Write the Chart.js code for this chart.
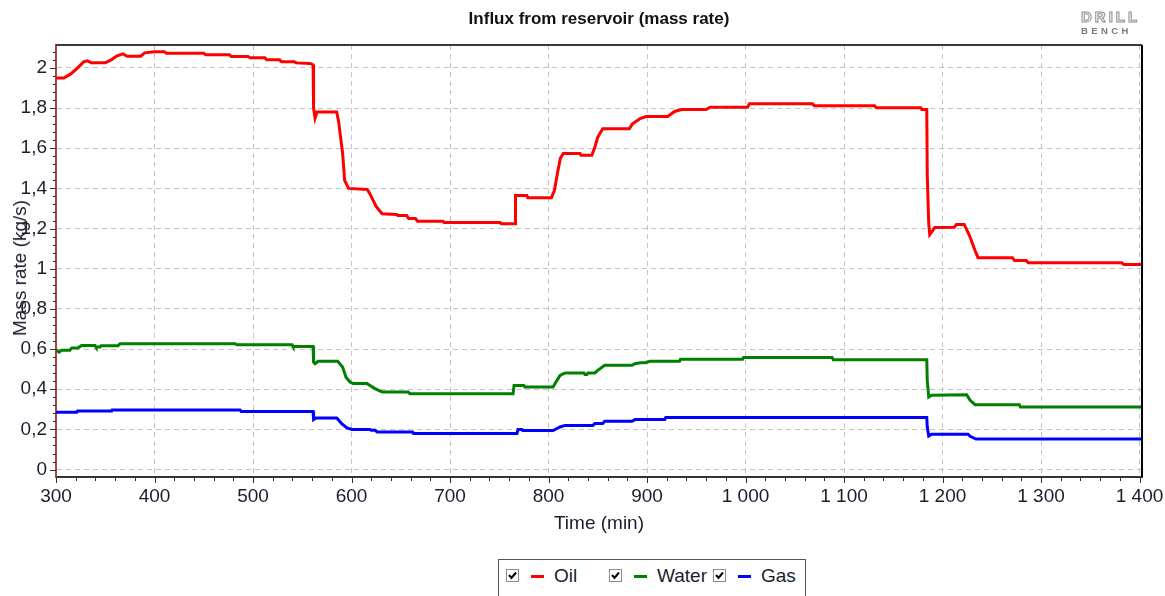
<!DOCTYPE html>
<html>
<head>
<meta charset="utf-8">
<script src="https://cdn.jsdelivr.net/npm/chart.js@4.4.0/dist/chart.umd.min.js"></script>
<style>
  body { margin: 0; background: #fff; font-family: "Liberation Sans", Arial, sans-serif; }
  #wrap { position: relative; width: 1165px; height: 596px; overflow: hidden; }
  #chart { position: absolute; left: 0; top: 0; }
  .txt { position: absolute; white-space: nowrap; color: #1c1c2e; }
  #title { left: 0; width: 1198px; top: 9px; text-align: center; font-weight: bold; font-size: 17px; color: #111; }
  #xTitle { left: 0; width: 1198px; top: 512px; text-align: center; font-size: 19px; }
  #yTitle { left: 20px; top: 268px; font-size: 19px; transform: translate(-50%, -50%) rotate(-90deg); }
  #logo { left: 1081px; top: 9px; line-height: 1; }
  #logo .a { font-size: 15px; letter-spacing: 3px; font-weight: bold; color: #fff; -webkit-text-stroke: 1px #8c8c8c; }
  #logo .b { font-size: 9.5px; letter-spacing: 3.4px; font-weight: bold; margin-top: 2px; color: #7a7a7a; }
  #legend { position: absolute; left: 498px; top: 559px; width: 306px; height: 50px; border: 1px solid #555; }
  .cb { position: absolute; top: 9px; width: 11px; height: 11px; border: 1px solid #8c8c8c; background: #fff; }
  .cb svg { position: absolute; left: 1px; top: 1px; }
  .mk { position: absolute; top: 15px; width: 13px; height: 3px; }
  .lt { position: absolute; top: 5px; font-size: 19px; color: #1c1c2e; }
</style>
</head>
<body>
<div id="wrap">
  <canvas id="chart" width="1165" height="545"></canvas>
  <div class="txt" id="title">Influx from reservoir (mass rate)</div>
  <div class="txt" id="xTitle">Time (min)</div>
  <div class="txt" id="yTitle">Mass rate (kg/s)</div>
  <div class="txt" id="logo"><div class="a">DRILL</div><div class="b">BENCH</div></div>
  <div id="legend"></div>
</div>
<script>
// Influx from reservoir, [time (min), mass rate (kg/s)]
const oilPoints = [
  [300, 1.95], [308, 1.95], [315, 1.97], [322, 2.0], [328, 2.03], [332, 2.035], [336, 2.025], [350, 2.025],
  [356, 2.04], [362, 2.06], [368, 2.07], [372, 2.058], [386, 2.058], [390, 2.075], [400, 2.08], [410, 2.08],
  [412, 2.073], [450, 2.073], [452, 2.065], [476, 2.065], [478, 2.057], [495, 2.057], [497, 2.05], [512, 2.05],
  [514, 2.04], [527, 2.04], [529, 2.03], [542, 2.03], [544, 2.025], [558, 2.022], [561, 2.015], [561.5, 1.80],
  [563, 1.75], [565, 1.78], [585, 1.78], [587, 1.73], [588, 1.69], [591, 1.574], [593, 1.44], [597, 1.40],
  [616, 1.395], [619, 1.37], [625, 1.31], [631, 1.274], [646, 1.27], [647, 1.265], [656, 1.265], [658, 1.25],
  [665, 1.25], [667, 1.236], [693, 1.236], [694, 1.23], [751, 1.23], [752, 1.224], [766, 1.224], [766.5, 1.365],
  [778, 1.365], [779, 1.353], [803, 1.353], [806, 1.39], [809, 1.474], [812, 1.55], [815, 1.574], [832, 1.574],
  [833, 1.565], [844, 1.565], [847, 1.605], [850, 1.655], [855, 1.697], [882, 1.697], [885, 1.72], [893, 1.748],
  [899, 1.758], [921, 1.758], [928, 1.783], [935, 1.793], [960, 1.793], [964, 1.804], [1002, 1.804], [1004, 1.821],
  [1068, 1.821], [1070, 1.811], [1131, 1.811], [1133, 1.801], [1178, 1.801], [1179, 1.793], [1184, 1.793],
  [1184.5, 1.464], [1186, 1.224], [1187, 1.17], [1190, 1.19], [1192, 1.205], [1212, 1.207], [1214, 1.22],
  [1222, 1.22], [1225, 1.19], [1228, 1.157], [1233, 1.091], [1236, 1.055], [1271, 1.055], [1273, 1.041],
  [1285, 1.041], [1287, 1.03], [1382, 1.03], [1384, 1.021], [1403, 1.021]
];
const waterPoints = [
  [300, 0.597], [303, 0.585], [306, 0.594], [314, 0.594], [316, 0.605], [322, 0.605], [326, 0.618], [339.6, 0.618],
  [340.6, 0.61], [344.7, 0.61], [345.7, 0.617], [363, 0.617], [365, 0.627], [481.7, 0.627], [483.8, 0.622],
  [539.6, 0.622], [540.6, 0.613], [561, 0.613], [561.5, 0.535], [563, 0.527], [566, 0.539], [586, 0.539],
  [591, 0.51], [594.4, 0.46], [598.5, 0.436], [601.5, 0.428], [615.7, 0.428], [618.8, 0.419], [623.9, 0.403],
  [629, 0.391], [632, 0.386], [657.4, 0.386], [659.4, 0.378], [764, 0.378], [765, 0.419], [775, 0.419],
  [776, 0.411], [804.6, 0.411], [807.6, 0.436], [811.7, 0.469], [816.8, 0.481], [836, 0.481], [837, 0.473],
  [839, 0.473], [840, 0.481], [847, 0.481], [850, 0.494], [857, 0.519], [884.8, 0.519], [887.8, 0.527],
  [893, 0.532], [898, 0.532], [903, 0.539], [933, 0.539], [934, 0.549], [997, 0.549], [998, 0.558],
  [1088, 0.558], [1089, 0.547], [1184, 0.547], [1184.5, 0.444], [1186, 0.361], [1189, 0.37], [1224.5, 0.373],
  [1228, 0.345], [1233, 0.323], [1278, 0.323], [1279, 0.311], [1403, 0.311]
];
const gasPoints = [
  [300, 0.285], [321, 0.285], [322, 0.292], [356.5, 0.292], [357, 0.297], [486.8, 0.297], [488, 0.289],
  [561, 0.289], [561.5, 0.249], [564, 0.257], [585, 0.257], [590, 0.229], [595.4, 0.207], [600.5, 0.2],
  [618.8, 0.2], [620, 0.196], [624, 0.196], [626, 0.187], [662, 0.187], [663, 0.179], [768, 0.179],
  [769, 0.199], [773, 0.199], [774, 0.194], [804.6, 0.194], [811.7, 0.212], [816.8, 0.22], [845, 0.22],
  [847, 0.229], [855, 0.229], [857, 0.24], [884.8, 0.24], [888, 0.249], [918, 0.249], [919, 0.259],
  [1184, 0.259], [1184.5, 0.212], [1186, 0.167], [1189, 0.176], [1226, 0.176], [1228, 0.166], [1234, 0.152],
  [1403, 0.152]
];
const seriesNames = ['Oil', 'Water', 'Gas'];
const seriesColors = ['#ff0000', '#008000', '#0000ff'];

const xTicks = [300, 400, 500, 600, 700, 800, 900, 1000, 1100, 1200, 1300, 1400];
const yTicks = [0, 0.2, 0.4, 0.6, 0.8, 1, 1.2, 1.4, 1.6, 1.8, 2];

const toXY = pts => pts.map(p => ({ x: p[0], y: p[1] }));

// legend (checkbox + colour dash + name)
const legendEl = document.getElementById('legend');
const legendX = [7, 110, 214];
const legendHtml = [];
seriesNames.forEach((name, i) => {
  const x = legendX[i];
  legendHtml.push(
    `<span class="cb" style="left:${x}px"><svg width="9" height="9"><path d="M1 4 L3.5 7 L8 1.5" stroke="#000" stroke-width="2" fill="none"/></svg></span>` +
    `<span class="mk" style="left:${x + 25}px;background:${seriesColors[i]}"></span>` +
    `<span class="lt" style="left:${x + 48}px">${name}</span>`);
});
legendEl.innerHTML = legendHtml.join('');

// frame, minor ticks
const framePlugin = {
  id: 'frame',
  afterDraw(chart) {
    const { ctx, chartArea: a, scales } = chart;
    const xs = scales.x, ys = scales.y;
    ctx.save();
    ctx.strokeStyle = '#333';
    ctx.lineWidth = 1;
    ctx.beginPath();
    for (let v = 300; v <= 1400; v += 20) {
      const px = Math.round(xs.getPixelForValue(v)) + 0.5;
      const len = v % 100 === 0 ? 6 : 4;
      ctx.moveTo(px, a.bottom);
      ctx.lineTo(px, a.bottom + len);
    }
    for (let i = 0; i <= 52; i++) {
      const v = i * 0.04;
      const py = Math.round(ys.getPixelForValue(v)) + 0.5;
      const len = i % 5 === 0 ? 6 : 3;
      ctx.moveTo(a.left - len, py);
      ctx.lineTo(a.left, py);
    }
    ctx.stroke();
    ctx.lineWidth = 2;
    ctx.strokeStyle = '#3a3a3a';
    ctx.beginPath();
    ctx.moveTo(a.left, a.top);
    ctx.lineTo(a.right, a.top);
    ctx.stroke();
    ctx.strokeStyle = '#000';
    ctx.beginPath();
    ctx.moveTo(a.right, a.top);
    ctx.lineTo(a.right, a.bottom);
    ctx.stroke();
    ctx.restore();
  }
};

const tickFont = { family: '"Liberation Sans", Arial, sans-serif', size: 19 };

new Chart(document.getElementById('chart'), {
  type: 'line',
  data: {
    datasets: [oilPoints, waterPoints, gasPoints].map((pts, i) => ({
      label: seriesNames[i],
      data: toXY(pts),
      borderColor: seriesColors[i],
      borderWidth: 3,
      pointRadius: 0,
      tension: 0,
      fill: false
    }))
  },
  options: {
    responsive: false,
    animation: false,
    layout: { padding: { top: 45, right: 23, left: 0, bottom: 0 } },
    plugins: { legend: { display: false }, tooltip: { enabled: false } },
    scales: {
      x: {
        type: 'linear',
        min: 300,
        max: 1402.5,
        afterFit: s => { s.height = 68; s.paddingLeft = 0; s.paddingRight = 0; },
        afterBuildTicks: s => { s.ticks = xTicks.map(v => ({ value: v })); },
        ticks: {
          autoSkip: false,
          padding: 8,
          maxRotation: 0,
          color: '#1c1c2e',
          font: tickFont,
          callback: v => String(v).replace(/\B(?=(\d{3})+(?!\d))/g, ' ')
        },
        grid: { color: '#c4c4c4', lineWidth: 1, drawTicks: false },
        border: { color: '#333', width: 2, dash: [5, 4] }
      },
      y: {
        min: -0.037,
        max: 2.114,
        afterFit: s => { s.width = 56; s.paddingTop = 0; s.paddingBottom = 0; },
        afterBuildTicks: s => { s.ticks = yTicks.map(v => ({ value: v })); },
        ticks: {
          autoSkip: false,
          padding: 9,
          color: '#1c1c2e',
          font: tickFont,
          callback: v => String(Math.round(v * 10) / 10).replace('.', ',')
        },
        grid: { color: '#c4c4c4', lineWidth: 1, drawTicks: false },
        border: { color: '#a8473c', width: 2, dash: [5, 4] }
      }
    }
  },
  plugins: [framePlugin]
});
</script>
</body>
</html>
